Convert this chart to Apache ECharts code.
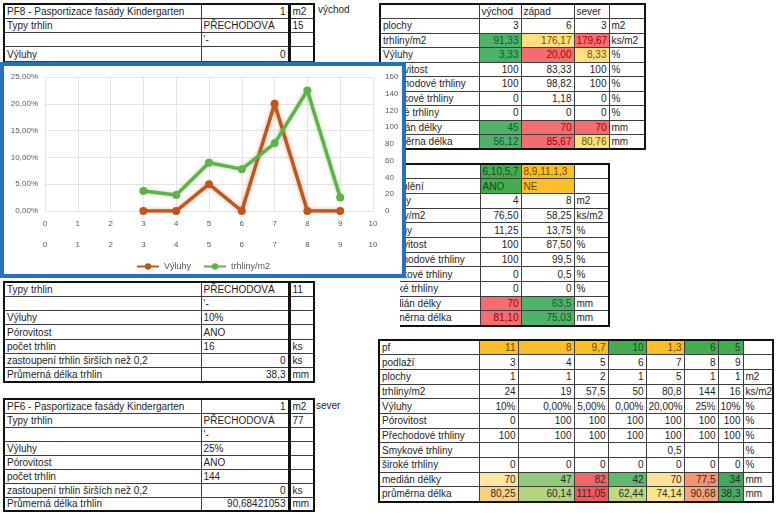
<!DOCTYPE html>
<html><head><meta charset="utf-8">
<script src="https://cdn.jsdelivr.net/npm/echarts@6/dist/echarts.min.js"></script>
<style>
html,body{margin:0;padding:0;background:#fff;}
body{width:780px;height:517px;overflow:hidden;position:relative;font-family:"Liberation Sans",Arial,sans-serif;}
table.xl{position:absolute;border-collapse:collapse;table-layout:fixed;border:2px solid #111;font-size:10px;color:#1e1e1e;font-family:"Liberation Sans",Arial,sans-serif;}
table.xl td{border:1px solid #3c3c3c;padding:0 2px;white-space:nowrap;overflow:hidden;line-height:11px;vertical-align:middle;}
.side{position:absolute;font-size:10px;color:#1e1e1e;}
#chartBox{position:absolute;left:0;top:62px;width:406px;height:216px;box-sizing:border-box;border:4px solid #2671b8;background:#fff;z-index:10;}
#chart{width:398px;height:208px;}
#clipMid{position:absolute;left:400px;top:158px;width:240px;height:175px;overflow:hidden;}
</style>
</head><body>
<div id="chartBox"><div id="chart"></div></div>
<div id="clipMid"></div>
<script>
// ---------- chart data ----------
const chartFloors = [3, 4, 5, 6, 7, 8, 9];
const chartVyluhy = [0, 0, 5, 0, 20, 0, 0];          // %
const chartTrhliny = [24, 19, 57.5, 50, 80.8, 144, 16]; // ks/m2
const xTicks = [0, 10];

// ---------- PF8 table ----------
const pf8Labels = ['PF8 - Pasportizace fasády Kindergarten', 'Typy trhlin', '', 'Výluhy', ''];
const pf8Values = ['1', 'PŘECHODOVÁ', "'-", '0', ''];
const pf8Units = ['m2', '15', '', '', ''];
const pf8Side = 'východ';

// ---------- middle-left table ----------
const midLabels = ['Typy trhlin', '', 'Výluhy', 'Pórovitost', 'počet trhlin', 'zastoupení trhlin širších než 0,2', 'Průmerná délka trhlin'];
const midValues = ['PŘECHODOVÁ', "'-", '10%', 'ANO', '16', '0', '38,3'];
const midUnits = ['11', '', '', '', 'ks', 'ks', 'mm'];

// ---------- PF6 table ----------
const pf6Labels = ['PF6 - Pasportizace fasády Kindergarten', 'Typy trhlin', '', 'Výluhy', 'Pórovitost', 'počet trhlin', 'zastoupení trhlin širších než 0,2', 'Průmerná délka trhlin'];
const pf6Values = ['1', 'PŘECHODOVÁ', "'-", '25%', 'ANO', '144', '0', '90,68421053'];
const pf6Units = ['m2', '77', '', '', '', '', 'ks', 'mm'];
const pf6Side = 'sever';

// ---------- summary by side ----------
const sideHeaders = ['východ', 'západ', 'sever'];
const rowLabels = ['plochy', 'trhliny/m2', 'Výluhy', 'Pórovitost', 'Přechodové trhliny', 'Smykové trhliny', 'široké trhliny', 'medián délky', 'průměrna délka'];
const rowUnits = ['m2', 'ks/m2', '%', '%', '%', '%', '%', 'mm', 'mm'];
const sumVychod = ['3', '91,33', '3,33', '100', '100', '0', '0', '45', '56,12'];
const sumZapad = ['6', '176,17', '20,00', '83,33', '98,82', '1,18', '0', '70', '85,67'];
const sumSever = ['3', '179,67', '8,33', '100', '100', '0', '0', '70', '80,76'];

// ---------- insulation table ----------
const zatGroups = ['6,10,5,7', '8,9,11,1,3'];
const zatLabel = 'Zateplění';
const zatFlags = ['ANO', 'NE'];
const zatAno = ['4', '76,50', '11,25', '100', '100', '0', '0', '70', '81,10'];
const zatNe = ['8', '58,25', '13,75', '87,50', '99,5', '0,5', '0', '63,5', '75,03'];

// ---------- per-floor table ----------
const floorPf = ['11', '8', '9,7', '10', '1,3', '6', '5'];
const floorNums = ['3', '4', '5', '6', '7', '8', '9'];
const floorPlochy = ['1', '1', '2', '1', '5', '1', '1'];
const floorTrhliny = ['24', '19', '57,5', '50', '80,8', '144', '16'];
const floorVyluhy = ['10%', '0,00%', '5,00%', '0,00%', '20,00%', '25%', '10%'];
const floorPorovitost = ['0', '100', '100', '100', '100', '100', '100'];
const floorPrechodove = ['100', '100', '100', '100', '100', '100', '100'];
const floorSmykove = ['', '', '', '', '0,5', '', ''];
const floorSiroke = ['0', '0', '0', '0', '0', '0', '0'];
const floorMedian = ['70', '47', '82', '42', '70', '77,5', '34'];
const floorPrumer = ['80,25', '60,14', '111,05', '62,44', '74,14', '90,68', '38,3'];
const floorRowLabels = ['pf', 'podlaží', 'plochy', 'trhliny/m2', 'Výluhy', 'Pórovitost', 'Přechodové trhliny', 'Smykové trhliny', 'široké trhliny', 'medián délky', 'průměrna délka'];
const floorUnits = ['', '', 'm2', 'ks/m2', '%', '%', '%', '%', '%', 'mm', 'mm'];

// ---------- styles (fills) ----------
const G = ['#4db46a', '#0f5a26'], Y = ['#ffe07c', '#6b5200'], R = ['#f66d6f', '#9c0006'], A = ['#fcbf2a', '#6b4500'], GD = ['#45ad4f', '#0f4a1a'];

function makeTable(o) {
  const t = document.createElement('table');
  t.className = 'xl';
  t.style.left = o.left + 'px';
  t.style.top = o.top + 'px';
  t.style.width = o.cols.reduce((a, b) => a + b, 0) + 'px';
  const cg = document.createElement('colgroup');
  o.cols.forEach(w => { const c = document.createElement('col'); c.style.width = w + 'px'; cg.appendChild(c); });
  t.appendChild(cg);
  const tb = document.createElement('tbody');
  t.appendChild(tb);
  o.rows.forEach((row, r) => {
    const tr = document.createElement('tr');
    tr.style.height = o.rowH + 'px';
    row.forEach((v, c) => {
      const td = document.createElement('td');
      td.textContent = v;
      td.style.textAlign = o.align(r, c) === 'r' ? 'right' : 'left';
      const f = o.fills && o.fills[r + ',' + c];
      if (f) { td.style.background = f[0]; td.style.color = f[1]; }
      if (o.thick && o.thick.includes(c)) td.style.borderLeft = '3px solid #111';
      tr.appendChild(td);
    });
    tb.appendChild(tr);
  });
  (o.parent || document.body).appendChild(t);
  return t;
}
function side(text, left, top) {
  const d = document.createElement('div');
  d.className = 'side'; d.textContent = text;
  d.style.left = left + 'px'; d.style.top = top + 'px';
  document.body.appendChild(d);
}
const zip3 = (a, b, c) => a.map((v, i) => [v, b[i], c[i]]);

// left tables
const pf8Align = ['r', 'l', 'l', 'r', 'l'];
makeTable({ left: 3, top: 3, cols: [197, 88, 25], rowH: 14.3, rows: zip3(pf8Labels, pf8Values, pf8Units),
  align: (r, c) => c === 1 ? pf8Align[r] : 'l', thick: [2] });
side(pf8Side, 318, 4);

const midAlign = ['l', 'l', 'l', 'l', 'l', 'r', 'r'];
makeTable({ left: 3, top: 281, cols: [197, 88, 25], rowH: 14.3, rows: zip3(midLabels, midValues, midUnits),
  align: (r, c) => c === 1 ? midAlign[r] : 'l', thick: [2] });

const pf6Align = ['r', 'l', 'l', 'l', 'l', 'l', 'r', 'r'];
makeTable({ left: 3, top: 398, cols: [197, 88, 25], rowH: 14, rows: zip3(pf6Labels, pf6Values, pf6Units),
  align: (r, c) => c === 1 ? pf6Align[r] : 'l', thick: [2] });
side(pf6Side, 316, 400);

// summary
const sumRows = [['', ...sideHeaders, '']].concat(rowLabels.map((l, i) => [l, sumVychod[i], sumZapad[i], sumSever[i], rowUnits[i]]));
makeTable({ left: 379, top: 3, cols: [99, 42, 53, 35, 36], rowH: 14.5, rows: sumRows,
  align: (r, c) => (r === 0 || c === 0 || c === 4) ? 'l' : 'r',
  fills: { '2,1': G, '2,2': Y, '2,3': R, '3,1': G, '3,2': R, '3,3': Y, '8,1': G, '8,2': R, '8,3': R, '9,1': G, '9,2': R, '9,3': Y } });

// insulation (clipped on the left)
const zatRows = [['', zatGroups[0], zatGroups[1], ''], [zatLabel, zatFlags[0], zatFlags[1], '']]
  .concat(rowLabels.map((l, i) => [l, zatAno[i], zatNe[i], rowUnits[i]]));
makeTable({ parent: document.getElementById('clipMid'), left: -22, top: 5, cols: [101, 41, 53, 35], rowH: 14.7, rows: zatRows,
  align: (r, c) => (r < 2 || c === 0 || c === 3) ? 'l' : 'r',
  fills: { '0,1': GD, '0,2': A, '1,1': GD, '1,2': A, '9,1': R, '9,2': G, '10,1': R, '10,2': G } });

// per floor
const floorCols = [floorPf, floorNums, floorPlochy, floorTrhliny, floorVyluhy, floorPorovitost, floorPrechodove, floorSmykove, floorSiroke, floorMedian, floorPrumer];
const floorRows = floorRowLabels.map((l, i) => [l, ...floorCols[i], floorUnits[i]]);
const medFill = ['#fde7a0', '#92cb7c', '#f2666a', '#5fba6e', '#fde39a', '#f7936f', '#3fab5d'];
const prFill = ['#fcd07f', '#b2d57f', '#f1575f', '#c1d980', '#fde68a', '#f9a172', '#45ad5f'];
const pfFill = [A, A, A, GD, A, GD, GD];
const floorFills = {};
for (let i = 0; i < 7; i++) {
  floorFills['0,' + (i + 1)] = pfFill[i];
  floorFills['9,' + (i + 1)] = [medFill[i], '#2a2a2a'];
  floorFills['10,' + (i + 1)] = [prFill[i], '#2a2a2a'];
}
makeTable({ left: 378, top: 339, cols: [100, 39, 56, 34, 38, 38, 34, 25, 30], rowH: 14.7, rows: floorRows,
  align: (r, c) => (c === 0 || c === 8) ? 'l' : 'r', fills: floorFills });

// ---------- chart ----------
const chart = echarts.init(document.getElementById('chart'), null, { renderer: 'canvas' });
const axLabel = { fontSize: 8, color: '#595959', fontFamily: 'Liberation Sans' };
const fmtPct = v => v.toFixed(2).replace('.', ',') + '%';
chart.setOption({
  animation: false,
  textStyle: { fontFamily: 'Liberation Sans' },
  grid: { left: 41, top: 11, right: 29, bottom: 63 },
  legend: {
    top: 191, left: 'center', itemWidth: 22, itemHeight: 8, itemGap: 12,
    textStyle: { fontSize: 9, color: '#595959' }, data: ['Výluhy', 'trhliny/m2']
  },
  xAxis: [
    { type: 'value', min: xTicks[0], max: xTicks[1], interval: 1, position: 'bottom',
      axisLine: { show: false }, axisTick: { show: false },
      axisLabel: Object.assign({ margin: 9 }, axLabel),
      splitLine: { show: true, lineStyle: { color: '#e4e4e4' } } },
    { type: 'value', min: xTicks[0], max: xTicks[1], interval: 1, position: 'bottom', offset: 21,
      axisLine: { show: false }, axisTick: { show: false },
      axisLabel: Object.assign({ margin: 9 }, axLabel), splitLine: { show: false } }
  ],
  yAxis: [
    { type: 'value', min: 0, max: 25, interval: 5, axisLine: { show: false }, axisTick: { show: false },
      axisLabel: Object.assign({ margin: 7, formatter: fmtPct }, axLabel),
      splitLine: { lineStyle: { color: '#e4e4e4' } } },
    { type: 'value', min: 0, max: 160, interval: 20, position: 'right', axisLine: { show: false }, axisTick: { show: false },
      axisLabel: Object.assign({ margin: 12 }, axLabel), splitLine: { show: false } }
  ],
  series: [
    { name: 'Výluhy', type: 'line', xAxisIndex: 0, yAxisIndex: 0,
      data: chartFloors.map((f, i) => [f, chartVyluhy[i]]),
      symbol: 'circle', symbolSize: 8,
      lineStyle: { width: 3.5, color: '#c0561c', shadowBlur: 4, shadowColor: 'rgba(192,86,28,0.45)' },
      itemStyle: { color: '#c0561c' } },
    { name: 'trhliny/m2', type: 'line', xAxisIndex: 0, yAxisIndex: 1,
      data: chartFloors.map((f, i) => [f, chartTrhliny[i]]),
      symbol: 'circle', symbolSize: 8,
      lineStyle: { width: 3.5, color: '#5fb24a', shadowBlur: 4, shadowColor: 'rgba(95,178,74,0.45)' },
      itemStyle: { color: '#5fb24a' } }
  ]
});
</script>
</body></html>
